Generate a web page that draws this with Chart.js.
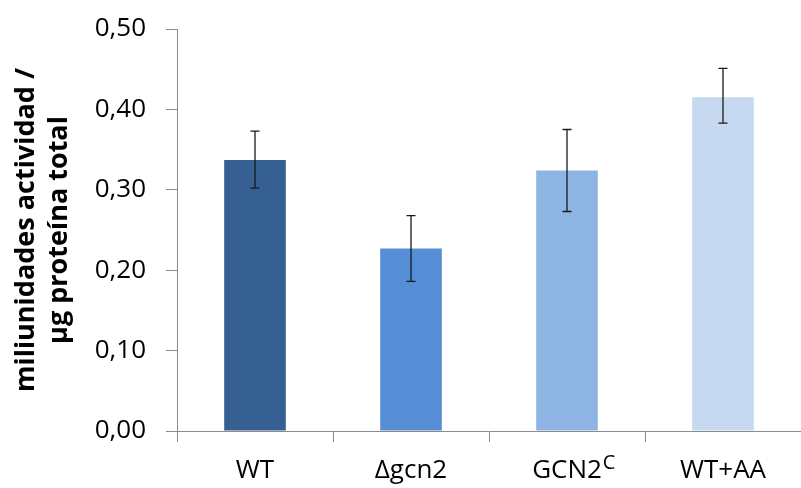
<!DOCTYPE html>
<html>
<head>
<meta charset="utf-8">
<script src="https://cdn.jsdelivr.net/npm/chart.js@4/dist/chart.umd.min.js"></script>
<style>
  body { margin: 0; background: #fff; }
  #wrap { width: 801px; height: 488px; }
</style>
</head>
<body>
<div id="wrap"><canvas id="c" width="801" height="488"></canvas></div>
<script>
const categories = ['WT', 'Δgcn2', 'GCN2', 'WT+AA']
const superscripts = ['', '', 'C', '']
const activity = [0.337, 0.227, 0.324, 0.415]
const errLow = [0.302, 0.186, 0.273, 0.383]
const errHigh = [0.373, 0.268, 0.375, 0.451]
const barColors = ['#366092', '#558ed5', '#8eb4e3', '#c6d9f1']
const yTitle = ['miliunidades actividad /', 'µg proteína total']

const font = 'Open Sans'
const axisGrey = '#8c8c8c'
const tickSize = 26

// error bars drawn on top of the bars, from the y scale
const errorBars = {
  id: 'errorBars',
  afterDatasetsDraw(chart) {
    const ctx = chart.ctx
    const y = chart.scales.y
    const meta = chart.getDatasetMeta(0)
    ctx.save()
    ctx.strokeStyle = '#1a1a1a'
    ctx.lineWidth = 1.3
    meta.data.forEach((bar, i) => {
      const top = y.getPixelForValue(errHigh[i])
      const bot = y.getPixelForValue(errLow[i])
      ctx.beginPath()
      ctx.moveTo(bar.x, top)
      ctx.lineTo(bar.x, bot)
      ctx.moveTo(bar.x - 4.5, top)
      ctx.lineTo(bar.x + 4.5, top)
      ctx.moveTo(bar.x - 4.5, bot)
      ctx.lineTo(bar.x + 4.5, bot)
      ctx.stroke()
    })
    ctx.restore()
  },
}

// superscript after a category label (GCN2^C)
const supLabels = {
  id: 'supLabels',
  afterDraw(chart) {
    const ctx = chart.ctx
    const x = chart.scales.x
    ctx.save()
    superscripts.forEach((s, i) => {
      if (!s) return
      ctx.font = `${tickSize}px "${font}"`
      const w = ctx.measureText(categories[i]).width
      const cx = x.getPixelForValue(i)
      ctx.font = `20px "${font}"`
      ctx.fillStyle = '#000'
      ctx.textBaseline = 'alphabetic'
      ctx.textAlign = 'left'
      ctx.fillText(s, cx + w / 2 + 1, 469)
    })
    ctx.restore()
  },
}

new Chart(document.getElementById('c'), {
  type: 'bar',
  data: {
    labels: categories,
    datasets: [
      {
        data: activity,
        backgroundColor: barColors,
        barPercentage: 0.395,
        categoryPercentage: 1,
      },
    ],
  },
  options: {
    responsive: false,
    animation: false,
    layout: { padding: { left: 9, top: 29, right: 0, bottom: 0 } },
    plugins: {
      legend: { display: false },
      tooltip: { enabled: false },
    },
    scales: {
      x: {
        afterFit: (s) => {
          s.height = 57
          s.paddingLeft = 0
          s.paddingRight = 0
        },
        grid: {
          display: true,
          drawOnChartArea: false,
          drawTicks: true,
          tickLength: 11,
          color: axisGrey,
          offset: true,
        },
        border: { color: axisGrey, width: 1 },
        ticks: {
          color: '#000',
          font: { family: font, size: tickSize },
          padding: 13,
          maxRotation: 0,
        },
      },
      y: {
        min: 0,
        max: 0.5,
        afterFit: (s) => {
          s.width = 168
          s.paddingTop = 0
          s.paddingBottom = 0
        },
        grid: {
          drawOnChartArea: false,
          drawTicks: true,
          tickLength: 11,
          color: axisGrey,
        },
        border: { color: axisGrey, width: 1 },
        ticks: {
          stepSize: 0.1,
          color: '#000',
          font: { family: font, size: tickSize },
          padding: 20,
          callback: (v) => v.toFixed(2).replace('.', ','),
        },
        title: {
          display: true,
          text: yTitle,
          color: '#000',
          font: { family: font, size: 27, weight: 'bold', lineHeight: 1.25 },
          padding: { top: 0, bottom: 4 },
        },
      },
    },
  },
  plugins: [errorBars, supLabels],
})
</script>
</body>
</html>
